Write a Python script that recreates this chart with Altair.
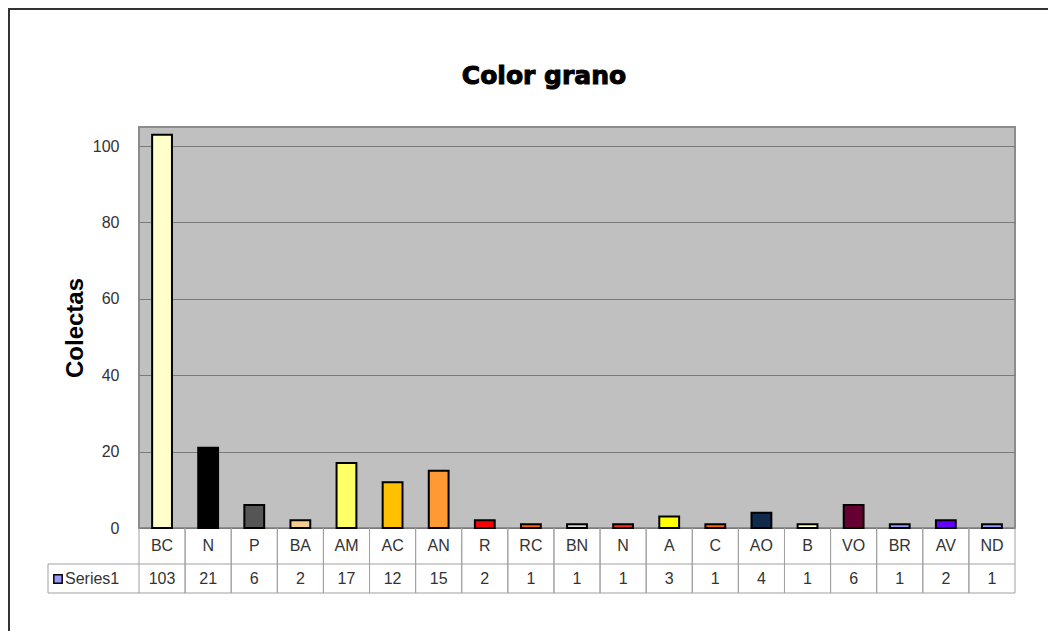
import altair as alt
import pandas as pd

categories = ["BC", "N", "P", "BA", "AM", "AC", "AN", "R", "RC", "BN",
              "N", "A", "C", "AO", "B", "VO", "BR", "AV", "ND"]
values = [103, 21, 6, 2, 17, 12, 15, 2, 1, 1, 1, 3, 1, 4, 1, 6, 1, 2, 1]
bar_colors = ["#FFFFCC", "#000000", "#555555", "#F2CC8F", "#FFFF66", "#FFC000",
              "#FF9933", "#FF0000", "#FF6600", "#D9D9D9", "#FF3300", "#FFFF00",
              "#FF6600", "#0F2A4A", "#FFFFCC", "#660033", "#9999FF", "#6600FF",
              "#9999FF"]
y_ticks = [0, 20, 40, 60, 80, 100]
series_name = "Series1"
series_color = "#9999FF"
title_text = "Color grano"
y_title = "Colectas"

W, H = 876, 401
FONT = "Liberation Sans"

df = pd.DataFrame({
    "idx": list(range(len(categories))),
    "cat": categories,
    "val": values,
    "color": bar_colors,
})
one = pd.DataFrame({"k": [0]})

xs = alt.Scale(paddingInner=0, paddingOuter=0)
x = alt.X("idx:O", axis=None, scale=xs)
base = alt.Chart(df)

frame = alt.Chart(one).mark_rect(fillOpacity=0, stroke="#333333", strokeWidth=2).encode(
    x=alt.value(-130), x2=alt.value(W + 200), y=alt.value(-118), y2=alt.value(H + 300)
)

title_df = pd.DataFrame({"t": [title_text]})
title = alt.Chart(title_df).mark_text(font="DejaVu Sans", fontSize=25, fontWeight="bold",
                                      color="black", stroke="black", strokeWidth=1,
                                      align="center", baseline="alphabetic").encode(
    x=alt.value(W / 2 - 33), y=alt.value(-43), text="t:N")

bars = base.mark_bar(width=alt.RelativeBandSize(0.43), stroke="black", strokeWidth=2).encode(
    x=x,
    y=alt.Y("val:Q",
            scale=alt.Scale(domain=[0, 105], nice=False),
            axis=alt.Axis(values=y_ticks, title=y_title, ticks=False, domain=False,
                          grid=True, gridColor="#7A7A7A", gridWidth=1,
                          labelFont=FONT, labelFontSize=16, labelColor="#333333",
                          labelPadding=20,
                          titleFont=FONT, titleFontSize=24, titleFontWeight="bold",
                          titleColor="black", titleAngle=270, titleX=-64, titleY=H / 2,
                          titleBaseline="middle", titleAlign="center")),
    fill=alt.Fill("color:N", scale=None),
)

vlines0 = base.mark_rule(color="#A0A0A0", strokeWidth=1).encode(
    x=alt.X("idx:O", bandPosition=0, axis=None, scale=xs),
    y=alt.value(H), y2=alt.value(H + 65),
)
vlines1 = base.mark_rule(color="#A0A0A0", strokeWidth=1).encode(
    x=alt.X("idx:O", bandPosition=1, axis=None, scale=xs),
    y=alt.value(H), y2=alt.value(H + 65),
)
hline_mid = alt.Chart(one).mark_rule(color="#A0A0A0").encode(
    x=alt.value(-91), x2=alt.value(W), y=alt.value(H + 36))
hline_bot = alt.Chart(one).mark_rule(color="#A0A0A0").encode(
    x=alt.value(-91), x2=alt.value(W), y=alt.value(H + 65))
vline_left = alt.Chart(one).mark_rule(color="#A0A0A0").encode(
    x=alt.value(-91), y=alt.value(H + 36), y2=alt.value(H + 65))

cat_text = base.mark_text(font=FONT, fontSize=16, color="#333333", baseline="middle").encode(
    x=x, y=alt.value(H + 18), text="cat:N")
val_text = base.mark_text(font=FONT, fontSize=16, color="#333333", baseline="middle").encode(
    x=x, y=alt.value(H + 51), text="val:Q")

leg_df = pd.DataFrame({"name": [series_name]})
leg_sq = alt.Chart(leg_df).mark_point(shape="square", filled=True, fill=series_color,
                                      stroke="black", strokeWidth=1.5, size=70, opacity=1).encode(
    x=alt.value(-81), y=alt.value(H + 51))
leg_txt = alt.Chart(leg_df).mark_text(font=FONT, fontSize=16, color="#333333",
                                      align="left", baseline="middle").encode(
    x=alt.value(-74), y=alt.value(H + 51), text="name:N")

chart = alt.layer(
    frame, title, bars, vlines0, vlines1, hline_mid, hline_bot, vline_left,
    cat_text, val_text, leg_sq, leg_txt
).properties(
    width=W, height=H,
    background="white",
    autosize=alt.AutoSizeParams(type="none"),
    padding={"left": 131, "top": 119, "right": 33, "bottom": 103},
).configure_view(
    fill="#C0C0C0", stroke="#8C8C8C", strokeWidth=2
)

chart.save("out.html", embed_options={"renderer": "svg", "actions": False})
